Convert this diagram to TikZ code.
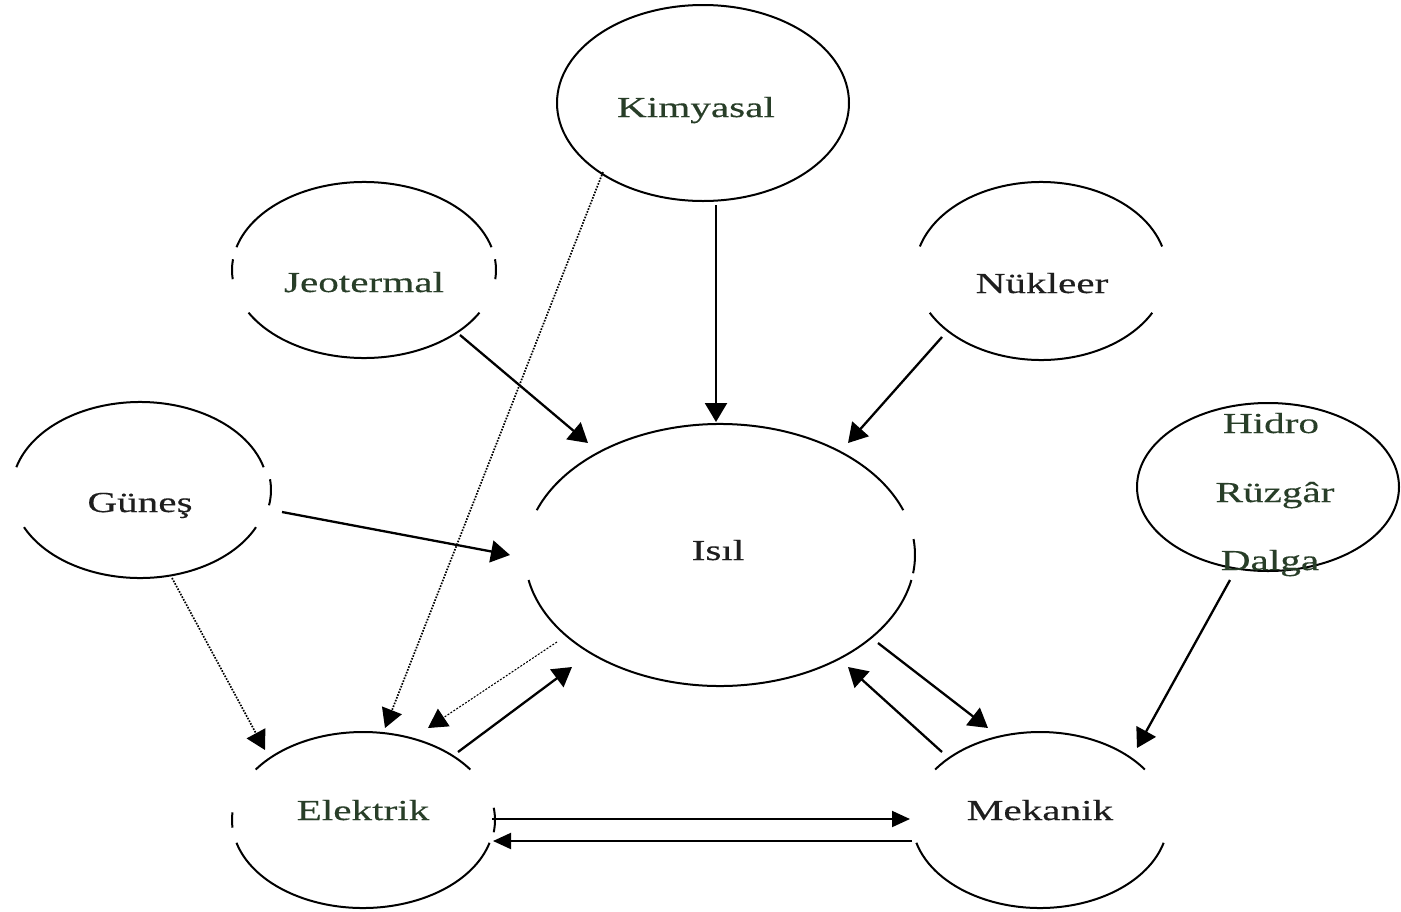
\documentclass[tikz,border=0pt]{standalone}
\usepackage{fontspec}
\setmainfont{Liberation Serif}[FakeStretch=1.42,FakeBold=0.3]
\usetikzlibrary{arrows.meta,shapes.geometric}
\definecolor{txtg}{RGB}{40,62,40}
\definecolor{txtk}{RGB}{30,30,30}
\begin{document}
\begin{tikzpicture}[x=1pt,y=1pt,
  shp/.style={ellipse,draw=none,inner sep=0pt},
  lbl/.style={anchor=base,inner sep=0pt,font=\fontsize{29}{34}\selectfont},
  rim/.style={line width=2pt,black},
  arr/.style={line width=2.3pt,-{Triangle[length=19pt,width=22pt]}},
  dotarr/.style={line width=1.7pt,dash pattern=on 1.6pt off 1.4pt,-{Triangle[length=19pt,width=21pt]}},
  thinarr/.style={line width=1pt,dash pattern=on 2pt off 1.5pt,-{Triangle[length=19pt,width=21pt]}},
  harr/.style={line width=2pt,-{Triangle[length=18pt,width=16pt]}}]
\useasboundingbox[fill=white] (0,0) rectangle (1401,-911);

% shape nodes
\node[shp,minimum width=292pt,minimum height=196pt] (kim) at (703,-103) {};
\node[shp,minimum width=264pt,minimum height=176pt] (jeo) at (364,-270) {};
\node[shp,minimum width=252pt,minimum height=178pt] (nuk) at (1041,-271) {};
\node[shp,minimum width=256pt,minimum height=176pt] (gun) at (140,-490) {};
\node[shp,minimum width=390pt,minimum height=262pt] (isil) at (720,-555) {};
\node[shp,minimum width=262pt,minimum height=168pt] (hid) at (1268,-487) {};
\node[shp,minimum width=262pt,minimum height=176pt] (ele) at (363,-820) {};
\node[shp,minimum width=256pt,minimum height=176pt] (mek) at (1040,-820) {};

% rims
\draw[rim] (kim.center) ellipse[x radius=146, y radius=98];
\draw[rim] (hid.center) ellipse[x radius=131, y radius=84];
% Jeotermal
\draw[rim] ([shift={(15:132 and 88)}]jeo.center) arc[start angle=15,end angle=165,x radius=132,y radius=88];
\draw[rim] ([shift={(209:132 and 88)}]jeo.center) arc[start angle=209,end angle=331,x radius=132,y radius=88];
\draw[rim] ([shift={(-6:132 and 88)}]jeo.center) arc[start angle=-6,end angle=7,x radius=132,y radius=88];
\draw[rim] ([shift={(173:132 and 88)}]jeo.center) arc[start angle=173,end angle=186,x radius=132,y radius=88];
% Nukleer
\draw[rim] ([shift={(16:126 and 89)}]nuk.center) arc[start angle=16,end angle=164,x radius=126,y radius=89];
\draw[rim] ([shift={(208:126 and 89)}]nuk.center) arc[start angle=208,end angle=332,x radius=126,y radius=89];
% Gunes
\draw[rim] ([shift={(15:128 and 88)}]gun.center) arc[start angle=15,end angle=165,x radius=128,y radius=88];
\draw[rim] ([shift={(205:128 and 88)}]gun.center) arc[start angle=205,end angle=335,x radius=128,y radius=88];
\draw[rim] ([shift={(-10:131 and 88)}]gun.center) arc[start angle=-10,end angle=7,x radius=131,y radius=88];
% Isil
\draw[rim] ([shift={(20:195 and 131)}]isil.center) arc[start angle=20,end angle=160,x radius=195,y radius=131];
\draw[rim] ([shift={(191:195 and 131)}]isil.center) arc[start angle=191,end angle=349,x radius=195,y radius=131];
\draw[rim] ([shift={(-8:195 and 131)}]isil.center) arc[start angle=-8,end angle=7,x radius=195,y radius=131];
% Elektrik
\draw[rim] ([shift={(35:131 and 88)}]ele.center) arc[start angle=35,end angle=145,x radius=131,y radius=88];
\draw[rim] ([shift={(195:131 and 88)}]ele.center) arc[start angle=195,end angle=345,x radius=131,y radius=88];
\draw[rim] ([shift={(-8:132 and 88)}]ele.center) arc[start angle=-8,end angle=8,x radius=132,y radius=88];
\draw[rim] ([shift={(175:131 and 88)}]ele.center) arc[start angle=175,end angle=185,x radius=131,y radius=88];
% Mekanik
\draw[rim] ([shift={(35:128 and 88)}]mek.center) arc[start angle=35,end angle=145,x radius=128,y radius=88];
\draw[rim] ([shift={(195:128 and 88)}]mek.center) arc[start angle=195,end angle=345,x radius=128,y radius=88];

% labels
\node[lbl,text=txtg] (kimt) at (696,-117) {Kimyasal};
\node[lbl,text=txtg] (jeot) at (364,-292) {Jeotermal};
\node[lbl,text=txtk] (nukt) at (1042,-293) {Nükleer};
\node[lbl,text=txtk] (gunt) at (140,-512) {Güneş};
\node[lbl,text=txtk] (isilt) at (718,-560) {Isıl};
\node[lbl,text=txtg] (elet) at (363,-820) {Elektrik};
\node[lbl,text=txtk] (mekt) at (1040,-820) {Mekanik};
\node[lbl,text=txtg] (hidt1) at (1271,-433) {Hidro};
\node[lbl,text=txtg] (hidt2) at (1275,-502) {Rüzgâr};
\node[lbl,text=txtg] (hidt3) at (1270,-570) {Dalga};

% connectors
\draw[arr] ([shift={(13,-102)}]kim.center) -- ([shift={(-4,133)}]isil.center);
\draw[arr] ([shift={(96,-65)}]jeo.center) -- ([shift={(-132,112)}]isil.center);
\draw[arr] ([shift={(-99,-66)}]nuk.center) -- ([shift={(128,112)}]isil.center);
\draw[arr] ([shift={(142,-22)}]gun.center) -- ([shift={(-210,0)}]isil.center);
\draw[arr] ([shift={(-38,-93)}]hid.center) -- ([shift={(97,72)}]mek.center);
\draw[dotarr] ([shift={(32,-88)}]gun.center) -- ([shift={(-98,70)}]ele.center);
\draw[dotarr] ([shift={(-100,-69)}]kim.center) -- ([shift={(22,92)}]ele.center);
\draw[thinarr] ([shift={(-163,-87)}]isil.center) -- ([shift={(65,92)}]ele.center);
\draw[arr] ([shift={(95,68)}]ele.center) -- ([shift={(-148,-112)}]isil.center);
\draw[arr] ([shift={(158,-88)}]isil.center) -- ([shift={(-52,92)}]mek.center);
\draw[arr] ([shift={(-98,68)}]mek.center) -- ([shift={(128,-112)}]isil.center);
\draw[harr] ([shift={(129,1)}]ele.center) -- ([shift={(-130,1)}]mek.center);
\draw[harr] ([shift={(-128,-21)}]mek.center) -- ([shift={(130,-21)}]ele.center);
\end{tikzpicture}
\end{document}
